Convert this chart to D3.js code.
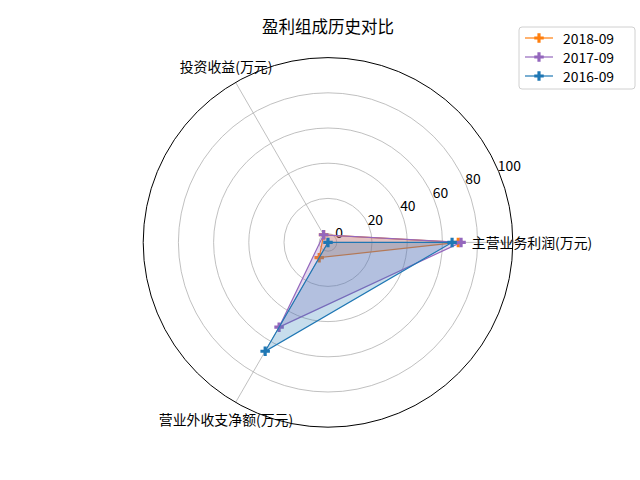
<!DOCTYPE html>
<html>
<head>
<meta charset="utf-8">
<script src="https://cdn.jsdelivr.net/npm/d3@7"></script>
<style>
  body { margin: 0; background: #fff; }
  text { font-family: "Noto Sans CJK SC", "DejaVu Sans", sans-serif; }
</style>
</head>
<body>
<svg id="chart" width="640" height="480"></svg>
<script>
// chart data
var categories = ["主营业务利润(万元)", "投资收益(万元)", "营业外收支净额(万元)"]
var seriesNames = ["2018-09", "2017-09", "2016-09"]
var seriesColors = ["#ff7f0e", "#9467bd", "#1f77b4"]
var values2018 = [69, 0, 5]
var values2017 = [70.6, 0, 50.6]
var values2016 = [65.5, -5, 66.4]
var radialTicks = [0, 20, 40, 60, 80, 100]
var radialDomain = [-5, 100]

var series = [values2018, values2017, values2016]

var svg = d3.select("#chart")
var cx = 328, cy = 242.4, R = 184.8

var r = d3.scaleLinear().domain(radialDomain).range([0, R])
// matplotlib style: angle 0 at east, counter-clockwise
var angle = d3.scaleLinear().domain([0, categories.length]).range([0, 2 * Math.PI])

function px(v, i) { return cx + r(v) * Math.cos(angle(i)) }
function py(v, i) { return cy - r(v) * Math.sin(angle(i)) }

var g = svg.append("g")

// grid circles
g.selectAll("circle.grid")
  .data(radialTicks.filter(function (t) { return t < radialDomain[1] }))
  .enter().append("circle")
    .attr("class", "grid")
    .attr("cx", cx).attr("cy", cy)
    .attr("r", function (t) { return r(t) })
    .attr("fill", "none")
    .attr("stroke", "#b0b0b0")
    .attr("stroke-width", 0.8)

// spokes
g.selectAll("line.spoke")
  .data(categories)
  .enter().append("line")
    .attr("x1", cx).attr("y1", cy)
    .attr("x2", function (d, i) { return px(radialDomain[1], i) })
    .attr("y2", function (d, i) { return py(radialDomain[1], i) })
    .attr("stroke", "#b0b0b0")
    .attr("stroke-width", 0.8)

// outer spine
g.append("circle")
  .attr("cx", cx).attr("cy", cy).attr("r", R)
  .attr("fill", "none").attr("stroke", "#000").attr("stroke-width", 1)

// radial tick labels at 22.5 deg
var labAng = 22.5 * Math.PI / 180
g.selectAll("text.rtick")
  .data(radialTicks)
  .enter().append("text")
    .attr("x", function (t) { return cx + r(t) * Math.cos(labAng) - 1 })
    .attr("y", function (t) { return cy - r(t) * Math.sin(labAng) - 1 })
    .attr("font-size", "13.9px")
    .text(function (t) { return t })

// series polygons
var line = d3.line()
  .x(function (d) { return px(d.v, d.i) })
  .y(function (d) { return py(d.v, d.i) })
  .curve(d3.curveLinearClosed)

var cross = d3.symbol().type(d3.symbolCross).size(50)

series.forEach(function (vals, s) {
  var pts = vals.map(function (v, i) { return { v: v, i: i } })
  var sg = g.append("g")
  sg.append("path")
    .attr("d", line(pts))
    .attr("fill", seriesColors[s])
    .attr("fill-opacity", 0.25)
    .attr("stroke", seriesColors[s])
    .attr("stroke-width", 1.2)
  sg.selectAll("path.mark")
    .data(pts)
    .enter().append("path")
      .attr("d", cross)
      .attr("transform", function (d) { return "translate(" + px(d.v, d.i) + "," + py(d.v, d.i) + ")" })
      .attr("fill", seriesColors[s])
})

// category labels
g.selectAll("text.cat")
  .data(categories)
  .enter().append("text")
    .attr("x", function (d, i) { return cx + 204 * Math.cos(angle(i)) })
    .attr("y", function (d, i) { return cy - 204 * Math.sin(angle(i)) })
    .attr("text-anchor", "middle")
    .attr("dominant-baseline", "central")
    .attr("font-size", "13.9px")
    .text(function (d) { return d })

// title
svg.append("text")
  .attr("x", 328).attr("y", 26)
  .attr("text-anchor", "middle")
  .attr("dominant-baseline", "central")
  .attr("font-size", "16.5px")
  .text("盈利组成历史对比")

// legend
var lg = svg.append("g").attr("transform", "translate(519,27)")
lg.append("rect")
  .attr("width", 116).attr("height", 62)
  .attr("rx", 3)
  .attr("fill", "#fff").attr("fill-opacity", 0.8)
  .attr("stroke", "#d0d0d0")

seriesNames.forEach(function (name, s) {
  var y = 11 + s * 19
  lg.append("line")
    .attr("x1", 6).attr("x2", 34).attr("y1", y).attr("y2", y)
    .attr("stroke", seriesColors[s]).attr("stroke-width", 1.2)
  lg.append("path")
    .attr("d", cross)
    .attr("transform", "translate(20," + y + ")")
    .attr("fill", seriesColors[s])
  lg.append("text")
    .attr("x", 44).attr("y", y)
    .attr("dominant-baseline", "central")
    .attr("font-size", "13.9px")
    .text(name)
})
</script>
</body>
</html>
